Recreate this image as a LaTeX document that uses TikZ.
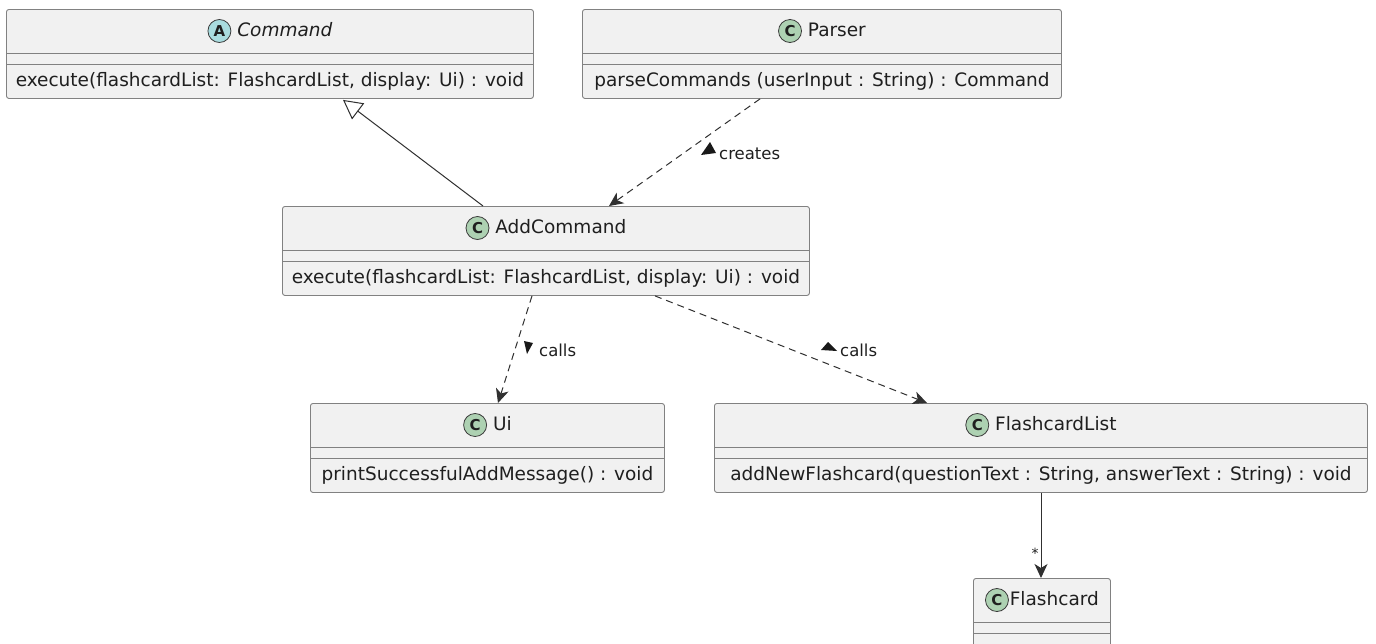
\documentclass[tikz,border=0pt]{standalone}
\usepackage{fontspec}
\setmainfont{DejaVu Sans}
\usetikzlibrary{arrows.meta,calc}

\definecolor{boxfill}{HTML}{F1F1F1}
\definecolor{boxline}{HTML}{818181}
\definecolor{edgecol}{HTML}{303030}
\definecolor{iconline}{HTML}{3A3A3A}
\definecolor{classgreen}{HTML}{ADD1B2}
\definecolor{abstractcyan}{HTML}{A9DCDF}

\tikzset{
  classbox/.style={draw=boxline, fill=boxfill, line width=0.9pt, rounded corners=2.5pt,
    anchor=north west, minimum height=89pt, inner sep=0pt},
  sepline/.style={draw=boxline, line width=0.9pt},
  boxtext/.style={font=\fontsize{18.5}{21}\selectfont, text=black!88, inner sep=0pt},
  lbl/.style={font=\fontsize{16.5}{19}\selectfont, text=black!88, inner sep=0pt, anchor=west},
  tip/.style={-{Stealth[length=14pt,width=13pt,inset=4pt]}},
  dep/.style={draw=edgecol, line width=1pt, dash pattern=on 7pt off 5pt, tip},
  assoc/.style={draw=edgecol, line width=1pt, tip},
  inherit/.style={draw=edgecol, line width=1pt,
    -{Triangle[open,length=19pt,width=20pt,fill=white]}},
  dirmark/.style={fill=black!90},
}

% round stereotype badge with a bold letter
\newcommand\classicon[2]{\tikz[baseline=(i.base)]\node[circle, draw=iconline, line width=0.8pt,
  fill=#2, inner sep=0pt, minimum size=23pt,
  font=\bfseries\fontsize{15}{15}\selectfont] (i) {#1};}

% class box: name, x, y, width, letter, badge colour, title, operation
\newcommand\umlclass[8]{%
  \node[classbox, minimum width=#4pt] (#1) at (#2,#3) {};
  \draw[sepline] ($(#1.north west)+(0,44)$) -- ($(#1.north east)+(0,44)$);
  \draw[sepline] ($(#1.north west)+(0,55)$) -- ($(#1.north east)+(0,55)$);
  \node[boxtext] (#1-title) at ($(#1.north)+(0,22)$) {\classicon{#5}{#6}\hspace{6pt}#7};
  \node[boxtext] (#1-op) at ($(#1.north)+(0,72)$) {#8};
}

\begin{document}
\begin{tikzpicture}[x=1pt, y=-1pt]
  \useasboundingbox (0,0) rectangle (1376,643);
  \fill[white] (0,0) rectangle (1376,643);
  \clip (0,0) rectangle (1376,643);

  \umlclass{command}{6}{9}{527}{A}{abstractcyan}{\itshape Command}%
    {execute(flashcardList: FlashcardList, display: Ui) : void}
  \umlclass{parser}{582}{9}{479}{C}{classgreen}{Parser}%
    {parseCommands (userInput : String) : Command}
  \umlclass{addcmd}{282}{206}{527}{C}{classgreen}{AddCommand}%
    {execute(flashcardList: FlashcardList, display: Ui) : void}
  \umlclass{ui}{310}{403}{354}{C}{classgreen}{Ui}%
    {printSuccessfulAddMessage() : void}
  \umlclass{fclist}{714}{403}{653}{C}{classgreen}{FlashcardList}%
    {addNewFlashcard(questionText : String, answerText : String) : void}

  % Flashcard has no members: two empty compartments
  \node[classbox, minimum width=137pt] (card) at (973,578) {};
  \draw[sepline] ($(card.north west)+(0,44)$) -- ($(card.north east)+(0,44)$);
  \draw[sepline] ($(card.north west)+(0,55)$) -- ($(card.north east)+(0,55)$);
  \node[boxtext] (card-title) at ($(card.north)+(0,22)$) {\classicon{C}{classgreen}\hspace{1pt}Flashcard};

  % generalization
  \draw[inherit] ($(addcmd.north west)+(201,0)$) -- ($(command.south west)+(337,1)$);

  % Parser creates AddCommand
  \draw[dep] ($(parser.south west)+(178,0)$) -- ($(addcmd.north west)+(327,0)$);
  \node[lbl] (lcreates) at (719,154) {creates};
  \fill[dirmark] ($(lcreates.west)+(-9,-12)$) -- ($(lcreates.west)+(-18,1)$)
    -- ($(lcreates.west)+(-3,-1)$) -- cycle;

  % AddCommand calls Ui
  \draw[dep] ($(addcmd.south west)+(250,0)$) -- ($(ui.north west)+(188,0)$);
  \node[lbl] (lcallsui) at (539,350) {calls};
  \fill[dirmark] ($(lcallsui.west)+(-15,-9)$) -- ($(lcallsui.west)+(-6,-7)$)
    -- ($(lcallsui.west)+(-12,4)$) -- cycle;

  % AddCommand calls FlashcardList
  \draw[dep] ($(addcmd.south west)+(373,0)$) -- ($(fclist.north west)+(213,0)$);
  \node[lbl] (lcallsfc) at (840,350) {calls};
  \fill[dirmark] ($(lcallsfc.west)+(-19,0)$) -- ($(lcallsfc.west)+(-12,-8)$)
    -- ($(lcallsfc.west)+(-3,1)$) -- cycle;

  % FlashcardList holds many Flashcards
  \draw[assoc] ($(fclist.south west)+(327,0)$) -- ($(card.north west)+(68,0)$);
  \node[lbl, anchor=center, font=\fontsize{14}{14}\selectfont] (mult) at (1035,553) {*};
\end{tikzpicture}
\end{document}
